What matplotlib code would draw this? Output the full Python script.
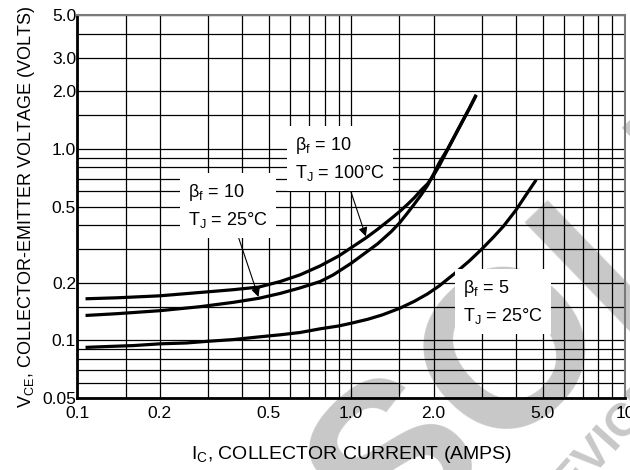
import matplotlib
matplotlib.use('Agg')
import matplotlib.pyplot as plt
from matplotlib import font_manager

# condensed sans, close to the datasheet typeface
installed = {f.name for f in font_manager.fontManager.ttflist}
font = 'Liberation Sans Narrow' if 'Liberation Sans Narrow' in installed else 'Liberation Sans'
plt.rcParams['font.family'] = [font, 'DejaVu Sans']
plt.rcParams['mathtext.fontset'] = 'custom'
plt.rcParams['mathtext.rm'] = font

# curves (IC in A, VCE in V)
ic_hot = [0.107, 0.14, 0.2, 0.28, 0.37, 0.46, 0.55, 0.65, 0.77, 0.9, 1.0, 1.135, 1.25, 1.4, 1.5,
          1.6, 1.7, 1.8, 1.9, 2.0, 2.1, 2.25, 2.4, 2.55, 2.7, 2.86]
vce_hot = [0.165, 0.167, 0.171, 0.178, 0.184, 0.19, 0.203, 0.22, 0.245, 0.276, 0.305, 0.344, 0.381,
           0.433, 0.47, 0.511, 0.556, 0.609, 0.657, 0.728, 0.82, 0.99, 1.18, 1.39, 1.62, 1.9]

ic_b10 = [0.107, 0.14, 0.2, 0.28, 0.37, 0.46, 0.55, 0.65, 0.77, 0.86, 1.0, 1.135, 1.25, 1.4, 1.5,
          1.6, 1.7, 1.8, 1.9, 2.0, 2.1, 2.25, 2.4, 2.55, 2.7, 2.86]
vce_b10 = [0.135, 0.138, 0.143, 0.15, 0.158, 0.166, 0.176, 0.188, 0.203, 0.22, 0.253, 0.289, 0.32,
           0.37, 0.41, 0.46, 0.515, 0.575, 0.645, 0.74, 0.85, 1.0, 1.19, 1.40, 1.63, 1.92]

ic_b5 = [0.107, 0.13, 0.16, 0.2, 0.25, 0.3, 0.37, 0.45, 0.55, 0.65, 0.77, 0.9, 1.0, 1.15, 1.3, 1.5,
         1.7, 1.9, 2.1, 2.4, 2.7, 3.0, 3.3, 3.6, 4.0, 4.35, 4.74]
vce_b5 = [0.092, 0.093, 0.094, 0.096, 0.097, 0.099, 0.101, 0.104, 0.107, 0.110, 0.115, 0.119, 0.123,
          0.129, 0.136, 0.147, 0.16, 0.175, 0.193, 0.225, 0.26, 0.30, 0.345, 0.395, 0.48, 0.575, 0.69]

x_major = [0.1, 0.2, 0.5, 1.0, 2.0, 5.0, 10]
x_labels = ['0.1', '0.2', '0.5', '1.0', '2.0', '5.0', '10']
x_minor = [0.15, 0.3, 0.4, 0.6, 0.7, 0.8, 0.9, 1.5, 3, 4, 6, 7, 8, 9]
y_major = [0.05, 0.1, 0.2, 0.5, 1.0, 2.0, 3.0, 5.0]
y_labels = ['0.05', '0.1', '0.2', '0.5', '1.0', '2.0', '3.0', '5.0']
y_minor = [0.06, 0.07, 0.08, 0.09, 0.15, 0.3, 0.4, 0.6, 0.7, 0.8, 0.9, 1.5, 4]

fig = plt.figure(figsize=(6.3, 4.7), dpi=100)
ax = fig.add_axes([0.123, 0.153, 0.869, 0.815])
ax.set_facecolor('none')

# faint watermark behind the grid
fig.text(0.87, 0.31, 'OBSOLETE', rotation=44, fontsize=160, color='#c8c8c8',
         weight='bold', ha='center', va='center', zorder=-1, family='Liberation Sans')
fig.text(0.95, 0.045, 'DEVICE', rotation=48, fontsize=34, color='#c8c8c8',
         weight='bold', ha='center', va='center', zorder=-1, family='Liberation Sans')

for ic, vce in [(ic_hot, vce_hot), (ic_b10, vce_b10), (ic_b5, vce_b5)]:
    ax.plot(ic, vce, color='black', lw=2.3, solid_capstyle='butt', zorder=4)

ax.set_xscale('log')
ax.set_yscale('log')
ax.set_xlim(0.1, 10)
ax.set_ylim(0.05, 5)
ax.set_xticks(x_major)
ax.set_xticklabels(x_labels)
ax.set_xticks(x_minor, minor=True)
ax.set_xticklabels([], minor=True)
ax.set_yticks(y_major)
ax.set_yticklabels(y_labels)
ax.set_yticks(y_minor, minor=True)
ax.set_yticklabels([], minor=True)
ax.tick_params(which='both', length=0, labelsize=12.5, colors='black')
ax.tick_params(axis='x', pad=6)
ax.tick_params(axis='y', pad=1)
ax.grid(which='both', color='black', lw=0.9)

for s in ['left', 'bottom']:
    ax.spines[s].set_linewidth(2)
    ax.spines[s].set_color('black')
for s in ['top', 'right']:
    ax.spines[s].set_linewidth(1.5)
    ax.spines[s].set_color('#7a7a7a')

ax.set_xlabel(r'I$_\mathregular{C}$, COLLECTOR CURRENT (AMPS)', fontsize=14, labelpad=16)
ax.set_ylabel(r'V$_\mathregular{CE}$, COLLECTOR-EMITTER VOLTAGE (VOLTS)', fontsize=13, labelpad=4)

box = dict(boxstyle='square,pad=0.45', fc='white', ec='none')
arrow = dict(arrowstyle='-|>', color='black', lw=0.8, mutation_scale=13, shrinkA=0, shrinkB=1)
ax.annotate('β$_\\mathregular{f}$ = 10\nT$_\\mathregular{J}$ = 100°C', xy=(ic_hot[11], vce_hot[11]),
            xytext=(295, 311), textcoords='figure pixels', ha='left', va='center',
            fontsize=13, linespacing=1.5, bbox=box, arrowprops=arrow, zorder=5)
ax.annotate('β$_\\mathregular{f}$ = 10\nT$_\\mathregular{J}$ = 25°C', xy=(ic_b10[5], vce_b10[5]),
            xytext=(188, 264), textcoords='figure pixels', ha='left', va='center',
            fontsize=13, linespacing=1.5, bbox=box, arrowprops=arrow, zorder=5)
ax.annotate('β$_\\mathregular{f}$ = 5\nT$_\\mathregular{J}$ = 25°C', xy=(ic_b5[16], vce_b5[16]),
            xytext=(463, 168), textcoords='figure pixels', ha='left', va='center',
            fontsize=13, linespacing=1.5, bbox=box, zorder=5)

fig.savefig('out.png', dpi=100, facecolor='white')
